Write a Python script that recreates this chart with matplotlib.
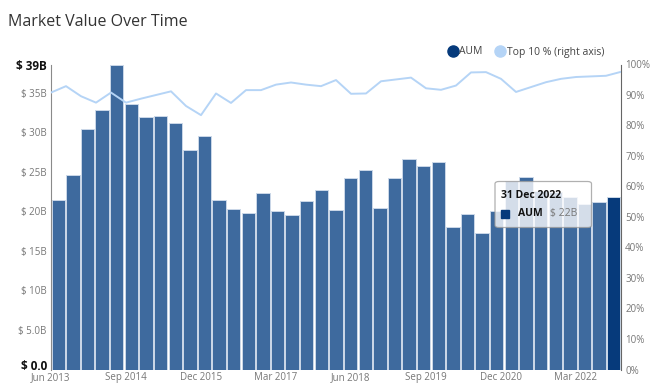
import numpy as np
import pandas as pd
import matplotlib
matplotlib.use("Agg")
import matplotlib.pyplot as plt
from matplotlib.lines import Line2D
from matplotlib.patches import FancyBboxPatch, Rectangle
from matplotlib.transforms import offset_copy

plt.rcParams["font.family"] = ["Open Sans", "DejaVu Sans"]

# quarterly points, Jun 2013 .. Dec 2022
QUARTERS = pd.period_range("2013Q2", "2022Q4", freq="Q")
# AUM in $B (bars, left axis)
AUM_B = [21.5, 24.6, 30.5, 32.9, 38.6, 33.6, 31.9, 32.1, 31.2, 27.8,
         29.5, 21.5, 20.3, 19.8, 22.4, 20.0, 19.6, 21.3, 22.7, 20.2,
         24.2, 25.3, 20.4, 24.2, 26.6, 25.7, 26.2, 18.0, 19.7, 17.3,
         20.1, 23.9, 24.4, 22.6, 22.5, 21.8, 20.9, 21.2, 21.8]
# share of top 10 holdings in % (line, right axis)
TOP10_PCT = [90.8, 92.9, 89.6, 87.5, 90.8, 87.5, 88.8, 90.0, 91.2, 86.4,
             83.4, 90.5, 87.4, 91.6, 91.6, 93.4, 94.1, 93.4, 92.9, 94.9,
             90.4, 90.5, 94.5, 95.1, 95.7, 92.2, 91.7, 93.1, 97.4, 97.5,
             95.3, 91.0, 92.6, 94.2, 95.3, 95.9, 96.1, 96.3, 97.6]
LEFT_TICKS = [0, 5, 10, 15, 20, 25, 30, 35]
RIGHT_TICKS = list(range(0, 101, 10))
LABEL_EVERY = 5
HOVER_DATE = "31 Dec 2022"

BAR_C = "#3e6a9e"
LAST_C = "#063a7b"
LINE_C = "#b5d4f6"
GREY = "#777777"

W, H = 652, 390


def fx(px):
    return px / W


def fy(py):
    return 1 - py / H


def main():
    fig = plt.figure(figsize=(W / 100, H / 100), dpi=100)
    ax = fig.add_axes([fx(51), fy(369.5), fx(570), (369.5 - 64.5) / H])

    n = len(AUM_B)
    x = np.arange(n)
    colors = [BAR_C] * (n - 1) + [LAST_C]
    ax.bar(x, AUM_B, width=0.92, color=colors, edgecolor="#cbd8e8",
           linewidth=0.7, zorder=2)
    ax.set_xlim(-0.5, n - 0.5)
    top = max(AUM_B)
    ax.set_ylim(0, top)

    yt = LEFT_TICKS + [top]
    ylab = []
    for v in yt:
        if v == 0:
            ylab.append("$ 0.0")
        elif v < 10:
            ylab.append(f"$ {v:.1f}B")
        else:
            ylab.append(f"$ {v:.0f}B")
    ax.set_yticks(yt)
    ax.set_yticklabels(ylab)
    ax.tick_params(axis="y", length=0, pad=3, labelsize=7, labelcolor=GREY)
    tl = ax.get_yticklabels()
    for t in (tl[0], tl[-1]):
        t.set_fontweight("bold")
        t.set_color("#111111")
        t.set_fontsize(8.5)
    # lift the bold zero a little so it clears the first date label
    tl[0].set_transform(offset_copy(tl[0].get_transform(), fig=fig,
                                    y=3, units="points"))

    # line sits on a date axis that spans the full plot width
    lx = np.linspace(-0.5, n - 0.5, n)
    ax.set_xticks(lx[::LABEL_EVERY])
    ax.set_xticklabels([q.end_time.strftime("%b %Y")
                        for q in QUARTERS[::LABEL_EVERY]])
    ax.tick_params(axis="x", length=0, pad=2, labelsize=7, labelcolor=GREY)

    for s in ("top", "right", "bottom"):
        ax.spines[s].set_visible(False)
    ax.spines["left"].set_color("#8a8a8a")

    ax2 = ax.twinx()
    ax2.plot(lx, TOP10_PCT, color=LINE_C, lw=1.4, solid_joinstyle="round",
             zorder=3)
    ax2.set_ylim(0, 100)
    ax2.set_yticks(RIGHT_TICKS)
    ax2.set_yticklabels([f"{v}%" for v in RIGHT_TICKS])
    ax2.tick_params(axis="y", length=0, pad=3, labelsize=7, labelcolor=GREY)
    for s in ("top", "left", "bottom"):
        ax2.spines[s].set_visible(False)
    ax2.spines["right"].set_color("#666666")

    fig.text(fx(8), fy(22), "Market Value Over Time", fontsize=11.5,
             color="#333333", va="center", ha="left")

    handles = [
        Line2D([], [], ls="none", marker="o", ms=8, color=LAST_C),
        Line2D([], [], ls="none", marker="o", ms=8, color=LINE_C),
    ]
    fig.legend(handles, ["AUM", "Top 10 % (right axis)"], ncol=2,
               loc="center right", bbox_to_anchor=(fx(604), fy(52)),
               frameon=False, fontsize=7.5, labelcolor="#444444",
               handletextpad=0.1, columnspacing=1.2, handlelength=1.0,
               borderaxespad=0, borderpad=0)

    # hover tooltip on the last quarter
    box = FancyBboxPatch((fx(495), fy(227.5)), fx(96.5), (227.5 - 181.5) / H,
                         boxstyle="round,pad=0,rounding_size=0.006",
                         transform=fig.transFigure, facecolor="white",
                         alpha=0.78, edgecolor="#9a9a9a", lw=0.9, zorder=5)
    fig.patches.append(box)
    fig.text(fx(501), fy(196), HOVER_DATE, fontsize=7.5, fontweight="bold",
             color="#111111", va="center", ha="left", zorder=6)
    fig.patches.append(Rectangle((fx(501), fy(217.5)), fx(8), 8 / H,
                                 transform=fig.transFigure, color=LAST_C,
                                 zorder=6))
    fig.text(fx(518), fy(213.5), "AUM", fontsize=7.5, fontweight="bold",
             color="#111111", va="center", ha="left", zorder=6)
    fig.text(fx(550), fy(213.5), f"$ {AUM_B[-1]:.0f}B", fontsize=7.5,
             color=GREY, va="center", ha="left", zorder=6)

    fig.savefig("out.png", dpi=100)
    plt.close(fig)


if __name__ == "__main__":
    main()
